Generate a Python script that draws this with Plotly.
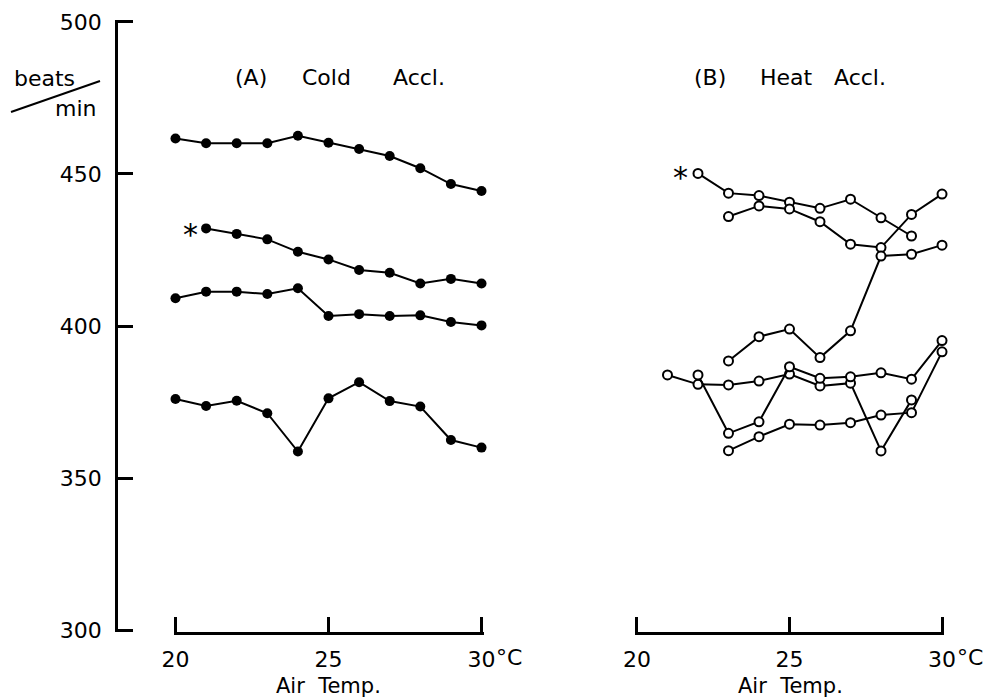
import plotly.graph_objects as go

# ---- data ----
temps = [20, 21, 22, 23, 24, 25, 26, 27, 28, 29, 30]

# (A) Cold acclimated (filled circles)
cold_1 = [461.7, 460.1, 460.1, 460.1, 462.6, 460.3, 458.2, 455.9, 451.9, 446.7, 444.4]
cold_2_x = [21, 22, 23, 24, 25, 26, 27, 28, 29, 30]
cold_2 = [432.1, 430.3, 428.5, 424.4, 421.9, 418.4, 417.5, 414.0, 415.5, 414.0]
cold_3 = [409.1, 411.3, 411.3, 410.5, 412.4, 403.3, 403.9, 403.3, 403.5, 401.3, 400.2]
cold_4 = [376.0, 373.7, 375.4, 371.3, 358.7, 376.2, 381.5, 375.3, 373.5, 362.5, 360.0]

# (B) Heat acclimated (open circles)
heat_1_x = [22, 23, 24, 25, 26, 27, 28, 29]
heat_1 = [450.2, 443.7, 442.9, 440.7, 438.7, 441.7, 435.6, 429.6]
heat_2_x = [23, 24, 25, 26, 27, 28, 29, 30]
heat_2 = [436.0, 439.5, 438.5, 434.3, 426.9, 425.8, 436.7, 443.4]
heat_3_x = [23, 24, 25, 26, 27, 28, 29, 30]
heat_3 = [388.5, 396.5, 399.0, 389.6, 398.4, 423.0, 423.6, 426.6]
heat_4_x = [21, 22, 23, 24, 25, 26, 27, 28, 29]
heat_4 = [383.9, 380.8, 380.6, 381.9, 384.2, 380.3, 381.2, 358.9, 375.7]
heat_5_x = [22, 23, 24, 25, 26, 27, 28, 29, 30]
heat_5 = [383.9, 364.7, 368.5, 386.6, 382.8, 383.3, 384.6, 382.5, 395.2]
heat_6_x = [23, 24, 25, 26, 27, 28, 29, 30]
heat_6 = [359.0, 363.6, 367.7, 367.4, 368.2, 370.7, 371.5, 391.5]

x_ticks = [20, 25, 30]
x_ticktext = ["20", "25", "30"]
y_ticks = [300, 350, 400, 450, 500]
y_ticktext = ["300", "350", "400", "450", "500"]

FONT = "DejaVu Sans"
W, H = 983, 700
TOP, BOT = 20, 632          # plot area slightly larger than the 500..300 span
Y_LO, Y_HI = 299.35, 500.65  # so end ticks are drawn (2 px inside the edges)


def px(x):
    return x / W


def py(y):
    return (BOT - y) / (BOT - TOP)


fig = go.Figure()

for xs, ys in [(temps, cold_1), (cold_2_x, cold_2), (temps, cold_3), (temps, cold_4)]:
    fig.add_trace(go.Scatter(
        x=xs, y=ys, mode="lines+markers", xaxis="x", yaxis="y",
        line=dict(color="black", width=2),
        marker=dict(symbol="circle", size=10, color="black"),
        cliponaxis=False, showlegend=False, hoverinfo="skip"))

for xs, ys in [(heat_1_x, heat_1), (heat_2_x, heat_2), (heat_3_x, heat_3),
               (heat_4_x, heat_4), (heat_5_x, heat_5), (heat_6_x, heat_6)]:
    fig.add_trace(go.Scatter(
        x=xs, y=ys, mode="lines+markers", xaxis="x2", yaxis="y",
        line=dict(color="black", width=2),
        marker=dict(symbol="circle", size=9, color="white",
                    line=dict(color="black", width=2)),
        cliponaxis=False, showlegend=False, hoverinfo="skip"))

xaxis_common = dict(
    range=[19.935, 30.065], tickvals=x_ticks, ticktext=x_ticktext,
    showline=True, linecolor="black", linewidth=2.5,
    ticks="inside", ticklen=15, tickwidth=2.5, tickcolor="black",
    showgrid=False, zeroline=False, anchor="y", automargin=False,
    tickfont=dict(family=FONT, size=22, color="black"),
    ticklabelstandoff=6, fixedrange=True)

fig.update_layout(
    width=W, height=H,
    margin=dict(l=0, r=0, t=TOP, b=H - BOT, autoexpand=False),
    paper_bgcolor="white", plot_bgcolor="white",
    xaxis=dict(domain=[px(173.5), px(483.5)], **xaxis_common),
    xaxis2=dict(domain=[px(635), px(944)], **xaxis_common),
    yaxis=dict(
        domain=[0, 1], range=[Y_LO, Y_HI], tickvals=y_ticks, ticktext=y_ticktext,
        anchor="free", position=px(116), side="left", automargin=False,
        showline=True, linecolor="black", linewidth=2.5,
        ticks="inside", ticklen=15, tickwidth=2.5, tickcolor="black",
        showgrid=False, zeroline=False,
        tickfont=dict(family=FONT, size=22, color="black"),
        ticklabelstandoff=9, fixedrange=True),
    showlegend=False,
)

ann = []


def text(t, x, y, size=22, xanchor="center"):
    ann.append(dict(text=t, x=px(x), y=py(y), xref="paper", yref="paper",
                    xanchor=xanchor, yanchor="middle", showarrow=False,
                    font=dict(family=FONT, size=size, color="black")))


# panel titles
text("(A)", 251, 77)
text("Cold", 326, 77)
text("Accl.", 419, 77)
text("(B)", 710, 77)
text("Heat", 786, 77)
text("Accl.", 860, 77)

# y unit label
text("beats", 44, 78)
text("min", 76, 108)

# asterisks
text("*", 190, 235, size=30)
text("*", 680, 178, size=30)

# degree C after 30
text("°C", 494, 657, xanchor="left")
text("°C", 955, 657, xanchor="left")

# x axis titles
text("Air  Temp.", 328, 686, size=21)
text("Air  Temp.", 790, 686, size=21)

fig.update_layout(annotations=ann)

fig.add_shape(type="line", xref="paper", yref="paper",
              x0=px(11), y0=py(112), x1=px(100), y1=py(81),
              line=dict(color="black", width=2))

fig.write_html("out.html")
